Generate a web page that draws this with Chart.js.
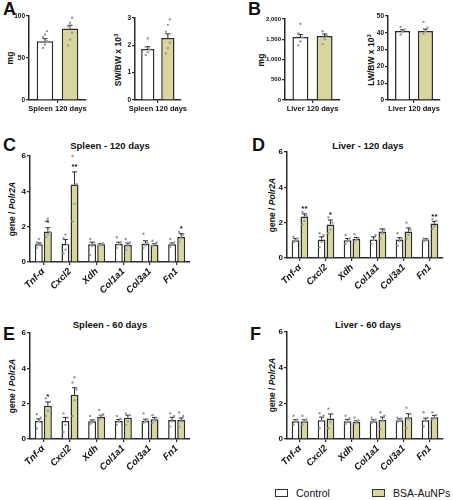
<!DOCTYPE html>
<html>
<head>
<meta charset="utf-8">
<script src="https://cdn.jsdelivr.net/npm/chart.js@4/dist/chart.umd.min.js"></script>
<style>
	body { margin: 0; width: 453px; height: 500px; position: relative; overflow: hidden; background: #fff; font-family: "Liberation Sans", Arial, sans-serif; color: #111; }
	canvas { position: absolute; }
	.letter { position: absolute; font-weight: bold; font-size: 18px; line-height: 18px; }
	.title { position: absolute; font-weight: bold; font-size: 9.5px; transform: translate(-50%, -50%); white-space: nowrap; }
	.ylab { position: absolute; font-weight: bold; font-size: 8.5px; transform: translate(-50%, -50%) rotate(-90deg); white-space: nowrap; }
	.ylab sup { font-size: 6px; }
	.legend { position: absolute; top: 487px; font-size: 10.5px; line-height: 12px; white-space: nowrap; }
	.legend span.sw { display: inline-block; width: 11px; height: 6px; border: 1.5px solid #333; vertical-align: middle; margin-right: 8px; margin-top: -2px; }
</style>
</head>
<body>

<div class="letter" style="left:3px; top:0px;">A</div>
<div class="letter" style="left:248px; top:0px;">B</div>
<div class="letter" style="left:3px; top:136px;">C</div>
<div class="letter" style="left:252px; top:136px;">D</div>
<div class="letter" style="left:3px; top:325px;">E</div>
<div class="letter" style="left:250px; top:325px;">F</div>

<div class="title" style="left:110px; top:145px;">Spleen - 120 days</div>
<div class="title" style="left:368px; top:145px;">Liver - 120 days</div>
<div class="title" style="left:110px; top:324px;">Spleen - 60 days</div>
<div class="title" style="left:368px; top:324px;">Liver - 60 days</div>

<div class="ylab" style="left:10px; top:58px;">mg</div>
<div class="ylab" style="left:118px; top:60px;">SW/BW x 10<sup>3</sup></div>
<div class="ylab" style="left:261px; top:60px;">mg</div>
<div class="ylab" style="left:371px; top:60px;">LW/BW x 10<sup>3</sup></div>
<div class="ylab" style="left:12px; top:209px;">gene / <i>Polr2A</i></div>
<div class="ylab" style="left:272px; top:205px;">gene / <i>Polr2A</i></div>
<div class="ylab" style="left:12px; top:386px;">gene / <i>Polr2A</i></div>
<div class="ylab" style="left:272px; top:385px;">gene / <i>Polr2A</i></div>

<canvas id="chartA1" width="90" height="116" style="left:0px; top:0px;"></canvas>
<canvas id="chartA2" width="90" height="116" style="left:100px; top:0px;"></canvas>
<canvas id="chartB1" width="95" height="116" style="left:250px; top:0px;"></canvas>
<canvas id="chartB2" width="95" height="116" style="left:355px; top:0px;"></canvas>
<canvas id="chartC" width="200" height="170" style="left:0px; top:130px;"></canvas>
<canvas id="chartD" width="223" height="170" style="left:230px; top:130px;"></canvas>
<canvas id="chartE" width="200" height="170" style="left:0px; top:310px;"></canvas>
<canvas id="chartF" width="223" height="170" style="left:230px; top:310px;"></canvas>

<div class="legend" style="left:275px;"><span class="sw" style="background:#fff;"></span>Control</div>
<div class="legend" style="left:372px;"><span class="sw" style="background:#d8d69c;"></span>BSA-AuNPs</div>

<script>
// categories
const spleenLabel = ["Spleen 120 days"];
const liverLabel = ["Liver 120 days"];
const genes = ["Tnf-α", "Cxcl2", "Xdh", "Col1a1", "Col3a1", "Fn1"];

// A - spleen weight (mg) and spleen/body weight x 10^3
const spleenMgControl = [70], spleenMgControlErr = [3];
const spleenMgBsa = [85], spleenMgBsaErr = [4];
const spleenMgControlDots = [[62, 66, 70, 75, 78, 82]];
const spleenMgBsaDots = [[65, 72, 80, 88, 92, 98]];
const spleenRatioControl = [1.87], spleenRatioControlErr = [0.08];
const spleenRatioBsa = [2.27], spleenRatioBsaErr = [0.15];
const spleenRatioControlDots = [[1.65, 1.75, 1.85, 1.95, 2.25]];
const spleenRatioBsaDots = [[1.7, 1.9, 2.1, 2.5, 2.75, 2.95]];

// B - liver weight (mg) and liver/body weight x 10^3
const liverMgControl = [1555], liverMgControlErr = [60];
const liverMgBsa = [1580], liverMgBsaErr = [50];
const liverMgControlDots = [[1350, 1450, 1550, 1650, 1880]];
const liverMgBsaDots = [[1380, 1500, 1600, 1700]];
const liverRatioControl = [41], liverRatioControlErr = [0.8];
const liverRatioBsa = [41], liverRatioBsaErr = [1.2];
const liverRatioControlDots = [[39, 40.5, 42, 43.5]];
const liverRatioBsaDots = [[39.5, 41, 43, 46.5]];

// C - spleen 120 days
const spleen120Control = [1.0, 1.02, 1.0, 1.02, 1.05, 1.0];
const spleen120ControlErr = [0.08, 0.25, 0.12, 0.1, 0.15, 0.08];
const spleen120Bsa = [1.72, 4.38, 1.0, 0.97, 0.98, 1.42];
const spleen120BsaErr = [0.22, 0.72, 0.05, 0.1, 0.06, 0.18];
const spleen120Stars = ["*", "**", "", "", "", "*"];
const spleen120ControlDots = [[0.8, 0.95, 1.05, 1.1, 1.3], [0.5, 0.7, 1.0, 1.35, 1.55], [0.4, 0.9, 1.1, 1.3], [0.8, 1.0, 1.1, 1.4], [0.8, 0.95, 1.1, 1.6], [0.85, 1.0, 1.1, 1.3]];
const spleen120BsaDots = [[1.4, 1.55, 1.7, 2.3, 2.45], [2.3, 3.3, 4.4, 6.0], [0.95, 1.0, 1.05], [0.7, 0.9, 1.1, 1.3], [0.9, 1.0, 1.1, 1.2], [1.15, 1.35, 1.55, 1.7]];

// D - liver 120 days
const liver120Control = [1.0, 1.05, 1.0, 1.05, 1.05, 1.05];
const liver120ControlErr = [0.1, 0.15, 0.1, 0.15, 0.1, 0.05];
const liver120Bsa = [2.35, 1.9, 1.08, 1.5, 1.5, 1.95];
const liver120BsaErr = [0.15, 0.25, 0.08, 0.15, 0.2, 0.12];
const liver120Stars = ["**", "*", "", "", "", "**"];
const liver120ControlDots = [[0.9, 1.0, 1.1, 1.2], [0.6, 0.9, 1.3, 1.4], [0.8, 0.95, 1.1, 1.3], [0.8, 1.0, 1.3], [0.7, 0.95, 1.1, 1.4], [0.95, 1.0, 1.05, 1.1]];
const liver120BsaDots = [[1.9, 2.1, 2.4, 2.6], [1.4, 1.6, 2.0, 2.3], [0.9, 1.05, 1.15, 1.35], [1.1, 1.4, 1.6, 1.65], [1.1, 1.3, 1.6, 2.0], [1.65, 1.8, 2.1, 2.2]];

// E - spleen 60 days
const spleen60Control = [1.02, 1.02, 1.0, 1.02, 1.02, 1.08];
const spleen60ControlErr = [0.12, 0.2, 0.08, 0.08, 0.1, 0.15];
const spleen60Bsa = [1.88, 2.5, 1.25, 1.2, 1.12, 1.07];
const spleen60BsaErr = [0.22, 0.4, 0.1, 0.15, 0.1, 0.12];
const spleen60Stars = ["*", "", "", "", "", ""];
const spleen60ControlDots = [[0.6, 1.0, 1.2, 1.4], [0.4, 0.8, 1.2, 1.45], [0.85, 0.95, 1.05, 1.3], [0.8, 1.0, 1.15, 1.3], [0.9, 1.0, 1.1, 1.45], [0.7, 1.0, 1.3, 1.45]];
const spleen60BsaDots = [[1.3, 1.6, 2.1, 2.3], [1.3, 2.2, 2.8, 3.2, 3.5], [1.1, 1.3, 1.4, 1.65], [0.8, 1.0, 1.35, 1.45], [0.9, 1.05, 1.2, 1.35], [0.7, 1.0, 1.3, 1.5]];

// F - liver 60 days
const liver60Control = [1.0, 1.05, 1.0, 1.0, 1.05, 1.05];
const liver60ControlErr = [0.08, 0.18, 0.1, 0.08, 0.08, 0.12];
const liver60Bsa = [1.0, 1.15, 0.95, 1.08, 1.22, 1.22];
const liver60BsaErr = [0.08, 0.25, 0.07, 0.15, 0.2, 0.1];
const liver60Stars = ["", "", "", "", "", ""];
const liver60ControlDots = [[0.8, 1.0, 1.1, 1.3], [0.6, 1.0, 1.3, 1.45], [0.85, 1.0, 1.15, 1.3], [0.9, 1.0, 1.1, 1.2], [0.95, 1.05, 1.15, 1.2], [0.7, 1.0, 1.2, 1.5]];
const liver60BsaDots = [[0.8, 1.0, 1.1, 1.3], [0.6, 0.95, 1.4, 1.7], [0.85, 0.95, 1.05, 1.2], [0.55, 1.0, 1.3, 1.5], [0.6, 1.1, 1.4, 1.75], [1.1, 1.2, 1.35, 1.5]];

const GREEN = "#d8d69c";
const LINE = "#2b2b2b";
const DOT = "#9a9a9a";
Chart.defaults.font.family = "'Liberation Sans', Arial, sans-serif";

// draws SEM bars, individual points and significance stars on top of each bar
const errorBarPlugin = {
	id: "errorBars",
	afterDatasetsDraw(chart) {
		const ctx = chart.ctx;
		const yScale = chart.scales.y;
		chart.data.datasets.forEach((ds, i) => {
			chart.getDatasetMeta(i).data.forEach((bar, j) => {
				const x = bar.x;
				const top = yScale.getPixelForValue(ds.data[j]);
				const cap = yScale.getPixelForValue(ds.data[j] + ds.errors[j]);
				ctx.save();
				ctx.strokeStyle = LINE;
				ctx.lineWidth = 1;
				ctx.beginPath();
				ctx.moveTo(x, top);
				ctx.lineTo(x, cap);
				ctx.moveTo(x - 2.5, cap);
				ctx.lineTo(x + 2.5, cap);
				ctx.stroke();
				ctx.fillStyle = DOT;
				(ds.dots[j] || []).forEach((v, k) => {
					ctx.beginPath();
					ctx.arc(x + ((k % 3) - 1) * 2, yScale.getPixelForValue(v), 1.2, 0, Math.PI * 2);
					ctx.fill();
				});
				const star = ds.stars ? ds.stars[j] : "";
				if (star) {
					ctx.fillStyle = "#111";
					ctx.font = "bold 8px 'Liberation Sans', Arial, sans-serif";
					ctx.textAlign = "center";
					ctx.textBaseline = "bottom";
					ctx.fillText(star, x, cap - 1);
				}
				ctx.restore();
			});
		});
	}
};

function makeChart(id, o) {
	return new Chart(document.getElementById(id), {
		type: "bar",
		data: {
			labels: o.labels,
			datasets: [
				{ label: "Control", data: o.control, errors: o.controlErr, dots: o.controlDots, stars: null, backgroundColor: "#ffffff", borderColor: LINE, borderWidth: 1.5 },
				{ label: "BSA-AuNPs", data: o.bsa, errors: o.bsaErr, dots: o.bsaDots, stars: o.stars, backgroundColor: GREEN, borderColor: LINE, borderWidth: 1.5 }
			]
		},
		options: {
			responsive: false,
			animation: false,
			layout: { padding: { top: o.padTop, right: o.padRight, left: 0, bottom: 0 } },
			datasets: { bar: { categoryPercentage: o.catPct, barPercentage: o.barPct } },
			plugins: { legend: { display: false }, tooltip: { enabled: false } },
			scales: {
				x: {
					grid: { offset: false, drawOnChartArea: false, tickLength: 3, color: LINE, lineWidth: 1.2 },
					border: { color: LINE, width: 1.5 },
					ticks: { font: o.xFont, color: "#111", minRotation: o.rot, maxRotation: o.rot, padding: 1, autoSkip: false },
					afterFit: (s) => { s.height = o.xHeight; }
				},
				y: {
					min: 0,
					max: o.max,
					grid: { drawOnChartArea: false, tickLength: 3, color: LINE, lineWidth: 1.2 },
					border: { color: LINE, width: 1.5 },
					ticks: { stepSize: o.step, font: { size: o.yFontSize, weight: "bold" }, color: "#111", padding: 1 },
					afterFit: (s) => { s.width = o.yWidth; }
				}
			}
		},
		plugins: [errorBarPlugin]
	});
}

const smallX = { size: 7.5, weight: "bold" };
const geneX = { size: 9.5, weight: "bold", style: "italic" };

makeChart("chartA1", { labels: spleenLabel, control: spleenMgControl, controlErr: spleenMgControlErr, controlDots: spleenMgControlDots, bsa: spleenMgBsa, bsaErr: spleenMgBsaErr, bsaDots: spleenMgBsaDots, stars: [""], max: 100, step: 50, padTop: 16, padRight: 4, yWidth: 29, xHeight: 16, catPct: 0.88, barPct: 0.66, xFont: smallX, rot: 0, yFontSize: 6.5 });
makeChart("chartA2", { labels: spleenLabel, control: spleenRatioControl, controlErr: spleenRatioControlErr, controlDots: spleenRatioControlDots, bsa: spleenRatioBsa, bsaErr: spleenRatioBsaErr, bsaDots: spleenRatioBsaDots, stars: [""], max: 3, step: 1, padTop: 18, padRight: 4, yWidth: 35, xHeight: 16, catPct: 0.88, barPct: 0.66, xFont: smallX, rot: 0, yFontSize: 6.5 });
makeChart("chartB1", { labels: liverLabel, control: liverMgControl, controlErr: liverMgControlErr, controlDots: liverMgControlDots, bsa: liverMgBsa, bsaErr: liverMgBsaErr, bsaDots: liverMgBsaDots, stars: [""], max: 2000, step: 500, padTop: 19, padRight: 5, yWidth: 35, xHeight: 16, catPct: 0.88, barPct: 0.66, xFont: smallX, rot: 0, yFontSize: 6 });
makeChart("chartB2", { labels: liverLabel, control: liverRatioControl, controlErr: liverRatioControlErr, controlDots: liverRatioControlDots, bsa: liverRatioBsa, bsaErr: liverRatioBsaErr, bsaDots: liverRatioBsaDots, stars: [""], max: 50, step: 10, padTop: 16, padRight: 10, yWidth: 33, xHeight: 16, catPct: 0.88, barPct: 0.66, xFont: smallX, rot: 0, yFontSize: 6.5 });

makeChart("chartC", { labels: genes, control: spleen120Control, controlErr: spleen120ControlErr, controlDots: spleen120ControlDots, bsa: spleen120Bsa, bsaErr: spleen120BsaErr, bsaDots: spleen120BsaDots, stars: spleen120Stars, max: 6, step: 2, padTop: 26, padRight: 10, yWidth: 30, xHeight: 38, catPct: 0.68, barPct: 0.88, xFont: geneX, rot: 45, yFontSize: 8 });
makeChart("chartD", { labels: genes, control: liver120Control, controlErr: liver120ControlErr, controlDots: liver120ControlDots, bsa: liver120Bsa, bsaErr: liver120BsaErr, bsaDots: liver120BsaDots, stars: liver120Stars, max: 6, step: 2, padTop: 22, padRight: 10, yWidth: 57, xHeight: 42, catPct: 0.68, barPct: 0.88, xFont: geneX, rot: 45, yFontSize: 8 });
makeChart("chartE", { labels: genes, control: spleen60Control, controlErr: spleen60ControlErr, controlDots: spleen60ControlDots, bsa: spleen60Bsa, bsaErr: spleen60BsaErr, bsaDots: spleen60BsaDots, stars: spleen60Stars, max: 6, step: 2, padTop: 23, padRight: 10, yWidth: 30, xHeight: 41, catPct: 0.68, barPct: 0.88, xFont: geneX, rot: 45, yFontSize: 8 });
makeChart("chartF", { labels: genes, control: liver60Control, controlErr: liver60ControlErr, controlDots: liver60ControlDots, bsa: liver60Bsa, bsaErr: liver60BsaErr, bsaDots: liver60BsaDots, stars: liver60Stars, max: 6, step: 2, padTop: 22, padRight: 10, yWidth: 57, xHeight: 41, catPct: 0.68, barPct: 0.88, xFont: geneX, rot: 45, yFontSize: 8 });
</script>
</body>
</html>
